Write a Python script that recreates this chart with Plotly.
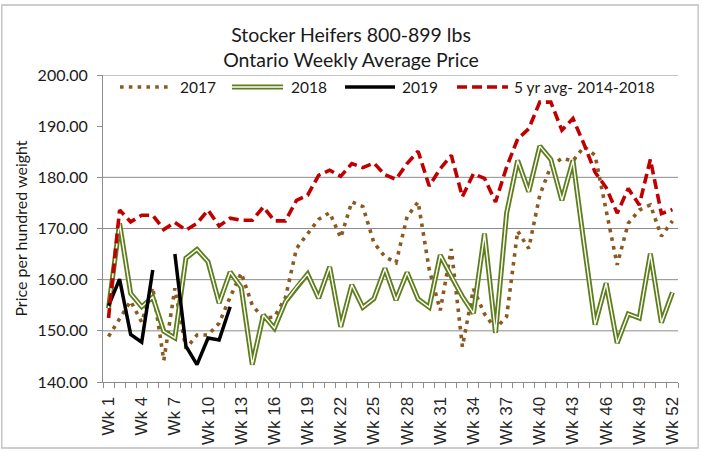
import plotly.graph_objects as go

weeks = list(range(1, 53))
week_labels = [f"Wk {w}" for w in weeks]
tick_weeks = weeks[::3]
tick_labels = [f"Wk {w}" for w in tick_weeks]

y2017 = [148.9, 152.5, 155.8, 151.7, 158.5, 144.2, 158.3, 146.5, 149.2, 149.2,
         151.5, 156.6, 161.3, 155.0, 152.5, 152.7, 156.5, 166.1, 168.9, 171.8,
         173.1, 168.2, 175.2, 174.3, 167.2, 164.5, 163.3, 172.3, 175.2, 162.0,
         154.0, 166.0, 146.9, 158.2, 153.3, 150.4, 152.8, 169.5, 166.1, 176.5,
         182.2, 183.7, 183.2, 186.0, 184.3, 174.0, 162.9, 171.0, 173.6, 174.6,
         168.5, 171.5]

y2018 = [154.4, 171.0, 157.3, 154.7, 156.6, 149.9, 148.6, 164.2, 165.9, 163.5,
         155.4, 161.5, 158.5, 143.4, 153.1, 150.5, 155.7, 158.6, 161.1, 156.4,
         162.5, 150.8, 159.0, 154.6, 156.3, 162.2, 156.0, 161.4, 156.2, 154.6,
         164.8, 160.6, 156.7, 153.4, 169.0, 149.6, 173.0, 183.3, 177.2, 186.1,
         183.5, 175.5, 183.3, 167.0, 151.2, 159.3, 147.6, 153.3, 152.5, 165.1,
         151.6, 157.5]

y2019 = [154.9, 160.1, 149.3, 147.8, 161.9, None, 165.0, 147.0, 143.4, 148.6,
         148.2, 154.7]

avg5 = [152.5, 173.6, 171.3, 172.6, 172.6, 169.8, 171.2, 169.7, 171.0, 173.6,
        170.5, 172.0, 171.6, 171.6, 174.2, 171.5, 171.5, 175.5, 176.5, 180.4,
        181.4, 180.2, 182.7, 181.9, 182.8, 180.5, 179.6, 182.7, 185.1, 178.3,
        181.7, 184.3, 176.2, 180.7, 179.8, 175.2, 182.0, 187.5, 189.5, 194.7,
        194.7, 189.2, 191.5, 186.5, 181.0, 178.0, 173.0, 177.8, 174.6, 183.5,
        172.9, 173.7]

series_names = ["2017", "2018", "2019", "5 yr avg- 2014-2018"]
grid_values = [150, 160, 170, 180, 200]

C2017 = "#8B5A22"
C2018 = "#5E7E1C"
C2019 = "#000000"
CAVG = "#C00000"
DOT = "3.6px,5.2px"
DASH = "10px,5px"
GRID = "#8C8C8C"
TXT = "#1a1a1a"

fig = go.Figure()
fig.add_trace(go.Scatter(x=weeks, y=y2017, mode="lines", name=series_names[0],
                         line=dict(color=C2017, width=3.6, dash=DOT)))
fig.add_trace(go.Scatter(x=weeks, y=y2018, mode="lines", name=series_names[1],
                         line=dict(color=C2018, width=5)))
fig.add_trace(go.Scatter(x=weeks, y=y2018, mode="lines", name=series_names[1],
                         hoverinfo="skip", line=dict(color="white", width=1.4)))
fig.add_trace(go.Scatter(x=weeks[:len(y2019)], y=y2019, mode="lines", name=series_names[2],
                         connectgaps=False, line=dict(color=C2019, width=3.5)))
fig.add_trace(go.Scatter(x=weeks, y=avg5, mode="lines", name=series_names[3],
                         line=dict(color=CAVG, width=3.6, dash=DASH)))

shapes = []
for g in grid_values:
    shapes.append(dict(type="line", xref="paper", x0=0, x1=1, yref="y", y0=g, y1=g,
                       line=dict(color=GRID, width=1), layer="below"))
# chart area border
shapes.append(dict(type="rect", xref="paper", yref="paper",
                   x0=-0.176, x1=1.035, y0=-0.215, y1=1.228,
                   line=dict(color="#BDBDBD", width=1.3)))

# legend (drawn manually to reproduce the Excel-style symbols)
LEG_Y = 0.961
leg_items = [
    (0.0296, 0.1165, 0.1304, [dict(color=C2017, width=3.6, dash=DOT)]),
    (0.2243, 0.3130, 0.3235, [dict(color=C2018, width=5), dict(color="white", width=1.4)]),
    (0.4209, 0.5078, 0.5165, [dict(color=C2019, width=3.5)]),
    (0.6157, 0.7043, 0.7120, [dict(color=CAVG, width=3.6, dash=DASH)]),
]
annotations = []
for name, (x0, x1, xt, lines) in zip(series_names, leg_items):
    for ln in lines:
        shapes.append(dict(type="line", xref="paper", yref="paper",
                           x0=x0, x1=x1, y0=LEG_Y, y1=LEG_Y, line=ln))
    annotations.append(dict(xref="paper", yref="paper", x=xt, y=LEG_Y,
                            xanchor="left", yanchor="middle", showarrow=False,
                            text=name, font=dict(family="Lato", size=15.5, color=TXT)))

fig.update_layout(
    width=702, height=452,
    margin=dict(l=103, r=24, t=75, b=70, autoexpand=False),
    paper_bgcolor="white", plot_bgcolor="white",
    title=dict(text="Stocker Heifers 800-899 lbs<br>Ontario Weekly Average Price",
               x=0.5, xanchor="center", y=0.908, yanchor="top",
               font=dict(family="Lato", size=19.5, color=TXT)),
    showlegend=False,
    shapes=shapes,
    annotations=annotations,
    xaxis=dict(range=[0.5, 52.5], tickmode="array", tickvals=tick_weeks,
               ticktext=tick_labels, tickangle=-90, ticks="",
               showgrid=False, zeroline=False, automargin=False,
               showline=True, linecolor=GRID, linewidth=1,
               ticklabelstandoff=7,
               tickfont=dict(family="Liberation Sans", size=17, color="#262626"),
               minor=dict(ticks="outside", tickmode="linear", tick0=0.5, dtick=1,
                          ticklen=5, tickcolor=GRID, showgrid=False)),
    yaxis=dict(range=[140, 200], tick0=140, dtick=10, tickformat=".2f",
               showgrid=False, zeroline=False, automargin=False,
               showline=True, linecolor=GRID, linewidth=1,
               ticks="outside", ticklen=5, tickcolor=GRID,
               ticklabelstandoff=6,
               tickfont=dict(family="Lato", size=16, color=TXT),
               title=dict(text="Price per hundred weight", standoff=6,
                          font=dict(family="Lato", size=16, color=TXT))),
)

fig.write_html("out.html", config={"displayModeBar": False},
               post_script="document.body.style.margin='0px';document.body.style.overflow='hidden';")
